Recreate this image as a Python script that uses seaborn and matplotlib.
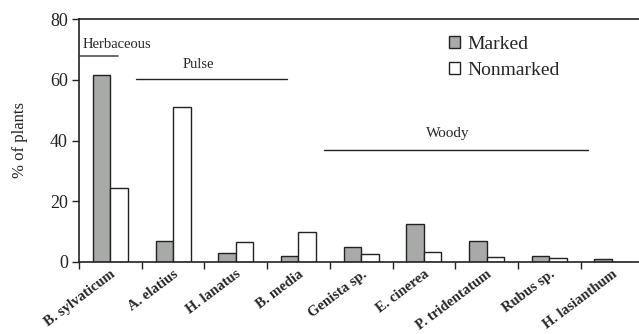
import matplotlib
matplotlib.use("Agg")
import matplotlib.pyplot as plt
from matplotlib.patches import Patch
import seaborn as sns
import pandas as pd

species = ["B. sylvaticum", "A. elatius", "H. lanatus", "B. media", "Genista sp.",
           "E. cinerea", "P. tridentatum", "Rubus sp.", "H. lasianthum"]
marked = [61.5, 6.8, 2.9, 2.0, 4.8, 12.5, 6.8, 2.0, 1.0]
nonmarked = [24.2, 51.0, 6.5, 9.9, 2.5, 3.2, 1.6, 1.3, 0.0]
groups = ["Marked", "Nonmarked"]
colors = {"Marked": "#a8aaa8", "Nonmarked": "#ffffff"}

df = pd.DataFrame({
    "species": species * 2,
    "pct": marked + nonmarked,
    "group": [groups[0]] * len(species) + [groups[1]] * len(species),
})

sns.set_style("ticks")
plt.rcParams["font.family"] = ["Liberation Serif", "DejaVu Serif"]

fig = plt.figure(figsize=(6.39, 3.34), dpi=100)
ax = fig.add_axes([79 / 639, (334 - 262) / 334, (639 - 79) / 639, (262 - 19) / 334])

sns.barplot(data=df, x="species", y="pct", hue="group", order=species,
            hue_order=groups, palette=colors, width=0.56, dodge=True,
            edgecolor="#222222", linewidth=1.0, legend=False, ax=ax)

ax.set_xlim(-0.5, 8.43)
ax.set_ylim(0, 80)
ax.set_yticks([0, 20, 40, 60, 80])
ax.tick_params(axis="y", direction="out", length=5, width=1, labelsize=13,
               colors="#222222", pad=3)
ax.set_xticks(range(len(species)))
ax.set_xticklabels(species, rotation=37, ha="right", rotation_mode="anchor",
                   fontweight="bold", fontsize=10.5)
ax.tick_params(axis="x", which="major", length=0, pad=4)
ax.set_xticks([i - 0.5 for i in range(len(species))], minor=True)
ax.tick_params(axis="x", which="minor", direction="out", length=5, width=1, color="#222222")

for side in ["left", "bottom", "top"]:
    ax.spines[side].set_visible(True)
    ax.spines[side].set_linewidth(1.2)
    ax.spines[side].set_color("#222222")
ax.spines["right"].set_visible(False)

ax.set_xlabel("")
ax.set_ylabel("% of plants", fontsize=12, color="#222222", labelpad=16)

# plant-type group brackets
ax.plot([-0.48, 0.12], [67.8, 67.8], color="#555555", lw=1.2, clip_on=False)
ax.text(-0.44, 69.6, "Herbaceous", fontsize=10.5, ha="left", va="bottom")
ax.plot([0.41, 2.82], [60.1, 60.1], color="#222222", lw=1.0)
ax.text(1.40, 63.0, "Pulse", fontsize=10.5, ha="center", va="bottom")
ax.plot([3.41, 7.62], [36.8, 36.8], color="#222222", lw=1.0)
ax.text(5.38, 40.0, "Woody", fontsize=11, ha="center", va="bottom")

handles = [Patch(facecolor=colors[g], edgecolor="#222222", linewidth=1.0, label=g) for g in groups]
ax.legend(handles=handles, loc="upper left", bbox_to_anchor=(449 / 639, 1 - 36 / 334),
          bbox_transform=fig.transFigure, frameon=False, fontsize=14,
          handlelength=0.55, handleheight=0.55, handletextpad=0.4, labelspacing=0.45,
          borderaxespad=0, borderpad=0)

fig.savefig("out.png", dpi=100)
